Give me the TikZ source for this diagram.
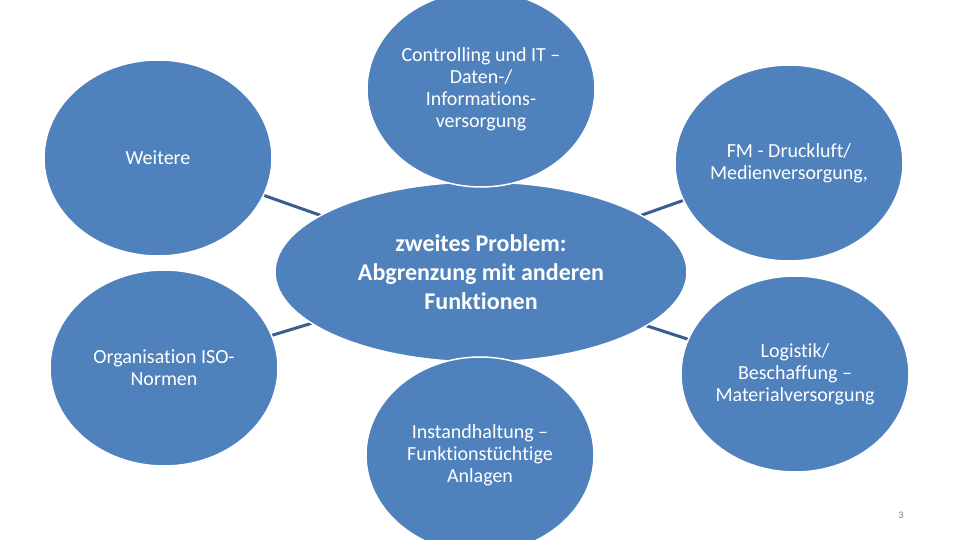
\documentclass[tikz,border=0pt]{standalone}
\usepackage{fontspec}
\setmainfont{Carlito}[Ligatures=NoCommon]
\usetikzlibrary{shapes.geometric,backgrounds}
\definecolor{fillblue}{HTML}{4F81BD}
\definecolor{linkblue}{HTML}{3B5E8C}
\begin{document}
\begin{tikzpicture}[x=1pt,y=-1pt,
  bubble/.style={ellipse, fill=fillblue, draw=white, line width=1.5pt, inner sep=0pt,
    text=white, align=center, font=\fontsize{20}{22}\selectfont,
    minimum width=228pt, minimum height=196pt},
  hub/.style={ellipse, fill=fillblue, draw=white, line width=1.5pt, inner sep=0pt,
    text=white, align=center, font=\bfseries\fontsize{24}{29}\selectfont,
    minimum width=412pt, minimum height=180pt},
  link/.style={draw=linkblue, line width=3pt},
  pagenum/.style={text=gray, font=\fontsize{10}{12}\selectfont}]
\useasboundingbox (0,0) rectangle (960,540);
\node[hub] (c) at (481,272) {zweites Problem:\\Abgrenzung mit anderen\\Funktionen};
\node[bubble] (t) at (481,89) {Controlling und IT –\\Daten-/\\Informations-\\versorgung};
\node[bubble] (w) at (158,158) {Weitere};
\node[bubble] (f) at (789,163) {FM - Druckluft/\\Medienversorgung,};
\node[bubble] (o) at (164,368) {Organisation ISO-\\Normen};
\node[bubble] (l) at (795,374) {Logistik/\\Beschaffung –\\Materialversorgung};
\node[bubble] (b) at (480,455) {Instandhaltung –\\Funktionstüchtige\\Anlagen};
\node[pagenum] (p) at (901,515) {3};
\begin{pgfonlayer}{background}
\fill[white] (0,0) rectangle (960,540);
\draw[link] (c.center) -- (w.center);
\draw[link] (c.center) -- (f.center);
\draw[link] (c.center) -- (o.center);
\draw[link] (c.center) -- (l.center);
\end{pgfonlayer}
\end{tikzpicture}
\end{document}
